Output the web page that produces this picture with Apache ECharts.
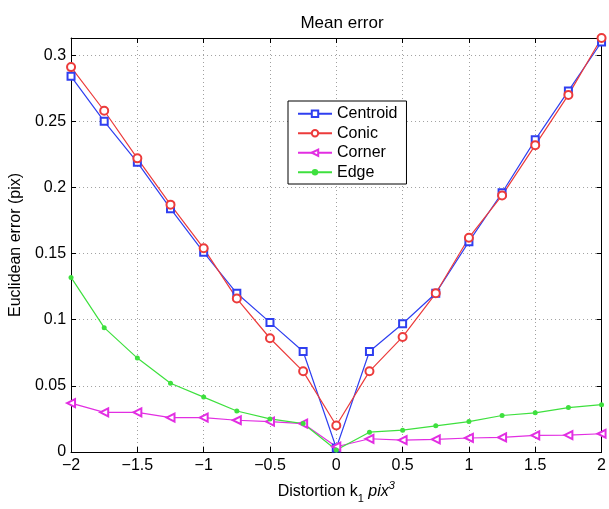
<!DOCTYPE html>
<html>
<head>
<meta charset="utf-8">
<script src="https://cdn.jsdelivr.net/npm/echarts@6/dist/echarts.min.js"></script>
<style>html,body{margin:0;padding:0;background:#fff}#c{width:609px;height:509px}</style>
</head>
<body>
<div id="c"></div>
<script>
const xs = [-2,-1.75,-1.5,-1.25,-1,-0.75,-0.5,-0.25,0,0.25,0.5,0.75,1,1.25,1.5,1.75,2];
const centroid = [0.284,0.250,0.219,0.184,0.151,0.120,0.098,0.076,0.003,0.076,0.097,0.120,0.159,0.196,0.236,0.273,0.310];
const conic    = [0.291,0.258,0.222,0.187,0.154,0.116,0.086,0.061,0.020,0.061,0.087,0.120,0.162,0.194,0.232,0.270,0.313];
const corner   = [0.037,0.030,0.030,0.026,0.026,0.024,0.023,0.0215,0.004,0.010,0.009,0.0096,0.0106,0.011,0.0126,0.0128,0.0138];
const edge     = [0.132,0.094,0.071,0.052,0.0415,0.031,0.025,0.0215,0.0015,0.015,0.0165,0.0198,0.023,0.0276,0.0296,0.0336,0.0358];
const seriesNames = ['Centroid','Conic','Corner','Edge'];
const xTicks = {min:-2, max:2, step:0.5};
const yTicks = {min:0, max:0.313, step:0.05};

const font = 'Liberation Sans, Arial, Helvetica, sans-serif';
const pair = a => xs.map((x,i)=>[x,a[i]]);
const colors = ['#2f3ff0','#ec3b3b','#e22ee2','#3ee03e'];
const fmtX = v => (Math.abs(v - Math.round(v/xTicks.step)*xTicks.step) > 1e-9) ? '' : String(+v.toFixed(2)).replace('-', '\u2212');
const fmtY = v => (Math.abs(v - Math.round(v/yTicks.step)*yTicks.step) > 1e-9) ? '' : String(+v.toFixed(3));

const axisCommon = {
  axisLine:{show:true,onZero:false,lineStyle:{color:'#000',width:1}},
  axisTick:{show:true,inside:true,length:5,lineStyle:{color:'#000'}}
};

const chart = echarts.init(document.getElementById('c'), null, {renderer:'canvas'});
chart.setOption({
  animation:false,
  backgroundColor:'#fff',
  textStyle:{fontFamily:font},
  title:{text:'Mean error',left:337,top:10,textAlign:'center',
    textStyle:{fontFamily:font,fontSize:17,fontWeight:'normal',color:'#000'}},
  grid:{left:69,right:4,top:38,bottom:48},
  legend:{
    orient:'vertical',left:288,top:101,
    itemWidth:34,itemHeight:8,itemGap:2,
    padding:[4,9,3,9],
    borderColor:'#000',borderWidth:1,backgroundColor:'#fff',
    textStyle:{fontFamily:font,fontSize:16,color:'#000',lineHeight:17.5},
    data:seriesNames
  },
  xAxis:[
    Object.assign({type:'value',position:'bottom',min:xTicks.min,max:xTicks.max,interval:xTicks.step,
      name:'Distortion k{s|1} {i|pix}{p|3}',nameLocation:'middle',nameGap:28,
      nameTextStyle:{fontFamily:font,fontSize:16,color:'#000',lineHeight:24,
        rich:{s:{fontSize:11,lineHeight:10,verticalAlign:'bottom',fontFamily:font,color:'#000'},
              i:{fontStyle:'italic',fontSize:16,fontFamily:font,color:'#000'},
              p:{fontSize:11,lineHeight:10,verticalAlign:'top',fontStyle:'italic',fontFamily:font,color:'#000'}}},
      axisLabel:{formatter:fmtX,fontFamily:font,fontSize:16,color:'#000',margin:6},
      splitLine:{show:true,lineStyle:{color:'#a0a0a0',type:[1,3],width:1}}}, axisCommon),
    Object.assign({type:'value',position:'top',min:xTicks.min,max:xTicks.max,interval:xTicks.step,
      axisLabel:{show:false},splitLine:{show:false}}, axisCommon)
  ],
  yAxis:[
    Object.assign({type:'value',position:'left',min:yTicks.min,max:yTicks.max,interval:yTicks.step,
      name:'Euclidean error (pix)',nameLocation:'middle',nameGap:43,
      nameTextStyle:{fontFamily:font,fontSize:16,color:'#000'},
      axisLabel:{formatter:fmtY,fontFamily:font,fontSize:16,color:'#000',margin:5,showMaxLabel:false},
      splitLine:{show:true,lineStyle:{color:'#a0a0a0',type:[1,3],width:1}}}, axisCommon),
    Object.assign({type:'value',position:'right',min:yTicks.min,max:yTicks.max,interval:yTicks.step,
      axisLabel:{show:false},splitLine:{show:false}}, axisCommon)
  ],
  series:[
    {name:seriesNames[0],type:'line',data:pair(centroid),symbol:'emptyRect',symbolSize:7,
      itemStyle:{color:colors[0],borderWidth:1},lineStyle:{color:colors[0],width:1.2}},
    {name:seriesNames[1],type:'line',data:pair(conic),symbol:'emptyCircle',symbolSize:8,
      itemStyle:{color:colors[1],borderWidth:1},lineStyle:{color:colors[1],width:1.2}},
    {name:seriesNames[2],type:'line',data:pair(corner),symbol:'emptyTriangle',symbolSize:8,symbolRotate:90,
      itemStyle:{color:colors[2],borderWidth:1},lineStyle:{color:colors[2],width:1.2}},
    {name:seriesNames[3],type:'line',data:pair(edge),symbol:'circle',symbolSize:5,
      itemStyle:{color:colors[3]},lineStyle:{color:colors[3],width:1.2}}
  ]
});
</script>
</body>
</html>
